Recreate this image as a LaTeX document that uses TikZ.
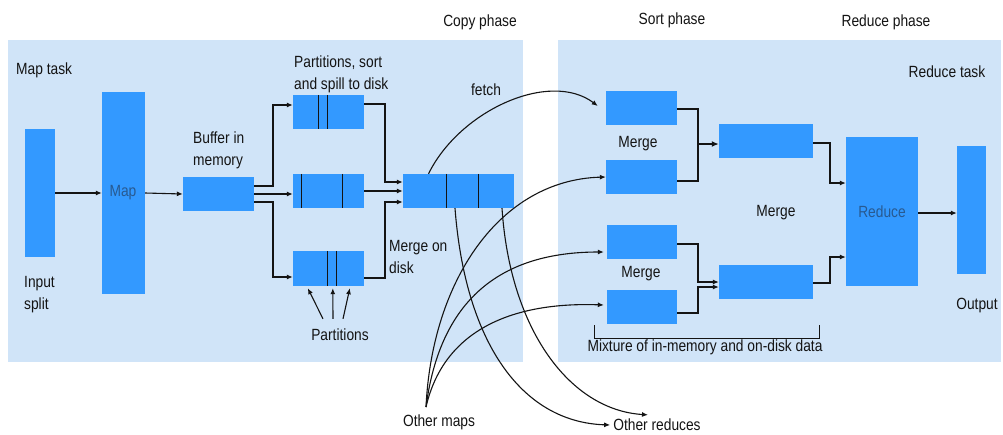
\documentclass[tikz,border=0pt]{standalone}
\usepackage{fontspec}
\setmainfont{Liberation Sans}[FakeStretch=0.85]
\usetikzlibrary{arrows.meta}
\definecolor{panel}{RGB}{208,228,248}
\definecolor{boxblue}{RGB}{51,153,255}
\definecolor{lbl}{RGB}{40,90,145}
\definecolor{ink}{RGB}{20,20,20}
\begin{document}
\begin{tikzpicture}[x=1pt,y=-1pt,
  box/.style={fill=boxblue, draw=none, inner sep=0pt},
  txt/.style={inner sep=0pt, align=left, text=ink, font=\fontsize{16.2}{22}\selectfont},
  conn/.style={draw=ink, line width=1.1pt},
  arr/.style={conn, -{Latex[length=6pt,width=5pt]}},
  div/.style={draw=ink, line width=1.1pt}]
\useasboundingbox (0,0) rectangle (1003,434);
\fill[white] (0,0) rectangle (1003,434);
\fill[panel] (8,40) rectangle (523,362);
\fill[panel] (558,40) rectangle (1001,362);

% boxes
\node[box, minimum width=30pt, minimum height=128pt] (inp) at (40,193) {};
\node[box, minimum width=43pt, minimum height=202pt] (map) at (123.5,193) {};
\node[box, minimum width=71pt, minimum height=34pt] (buf) at (218.5,194) {};
\node[box, minimum width=71pt, minimum height=34pt] (p1) at (328.5,112) {};
\node[box, minimum width=71pt, minimum height=34pt] (p2) at (328.5,191) {};
\node[box, minimum width=71pt, minimum height=35pt] (p3) at (328.5,268.5) {};
\node[box, minimum width=111pt, minimum height=34pt] (md) at (458.5,191) {};
\node[box, minimum width=71pt, minimum height=34pt] (a1) at (641.5,108) {};
\node[box, minimum width=71pt, minimum height=34pt] (a2) at (641.5,177) {};
\node[box, minimum width=70pt, minimum height=34pt] (b1) at (642,242) {};
\node[box, minimum width=70pt, minimum height=34pt] (b2) at (642,307) {};
\node[box, minimum width=94pt, minimum height=34pt] (c1) at (766,141) {};
\node[box, minimum width=94pt, minimum height=34pt] (c2) at (766,282) {};
\node[box, minimum width=72pt, minimum height=149pt] (red) at (882,211.5) {};
\node[box, minimum width=29pt, minimum height=128pt] (out) at (971.5,210) {};

% dividers
\foreach \n/\d in {p1/26,p1/35,p2/9,p2/50,p3/35,p3/44,md/44,md/76}
  \draw[div] ([xshift=\d pt]\n.north west) -- ([xshift=\d pt]\n.south west);

% texts
\node[txt, anchor=west] (tmaptask) at (16,70) {Map task};
\node[txt, anchor=west] (tinput) at (24,295) {Input\\split};
\node[txt, text=lbl] (tmap) at (123,193) {Map};
\node[txt, anchor=west] (tbuf) at (193,150) {Buffer in\\memory};
\node[txt, anchor=west] (tpss) at (294,74) {Partitions, sort\\and spill to disk};
\node[txt] (tfetch) at (486,90) {fetch};
\node[txt, anchor=west] (tmod) at (389,257) {Merge on\\disk};
\node[txt] (parts) at (340,335) {Partitions};
\node[txt] (tcopy) at (480,22) {Copy phase};
\node[txt] (tsort) at (672,20) {Sort phase};
\node[txt] (treduce) at (886,22) {Reduce phase};
\node[txt] (trtask) at (947,72) {Reduce task};
\node[txt] (tm1) at (638,144) {Merge};
\node[txt] (tm2) at (641,274) {Merge};
\node[txt] (tm3) at (776,213) {Merge};
\node[txt, text=lbl] (tred) at (882,212) {Reduce};
\node[txt] (tout) at (977,306) {Output};
\node[txt] (tmix) at (705,347) {Mixture of in-memory and on-disk data};
\node[txt] (om) at (439,422) {Other maps};
\node[txt] (ored) at (657,425) {Other reduces};

% map side connectors
\draw[arr] (inp.east) -- (map.west);
\draw[arr] (map.east) -- (buf.west);
\coordinate (jl) at (273,194);
\draw[arr] ([yshift=8pt]buf.east) -| ([yshift=7pt]jl |- p1.west) -- ([yshift=7pt]p1.west);
\draw[arr] (buf.east) -- (buf.east -| p2.west);
\draw[arr] ([yshift=-8pt]buf.east) -| ([yshift=-8.5pt]jl |- p3.west) -- ([yshift=-8.5pt]p3.west);
\coordinate (jr) at (385,191);
\draw[arr] ([yshift=8pt]p1.east) -| ([yshift=9pt]jr |- md.west) -- ([yshift=9pt]md.west);
\draw[arr] (p2.east) -- (md.west);
\draw[arr] ([yshift=-9.5pt]p3.east) -| ([yshift=-11pt]jr |- md.west) -- ([yshift=-11pt]md.west);

% partitions arrows
\draw[arr] ([xshift=-17pt,yshift=10pt]parts.north) -- ([xshift=15pt,yshift=-2pt]p3.south west);
\draw[arr] ([xshift=-7pt,yshift=10pt]parts.north) -- ([xshift=40pt,yshift=-2pt]p3.south west);
\draw[arr] ([xshift=3pt,yshift=10pt]parts.north) -- ([xshift=57pt,yshift=-2pt]p3.south west);

% fetch curve
\draw[arr] ([xshift=-30pt]md.north) .. controls (460,110) and (550,70) .. ([xshift=-8pt,yshift=2pt]a1.west);

% other maps curves
\coordinate (oms) at (426,407);
\draw[arr] (oms) .. controls (432,280) and (500,180) .. (a2.west);
\draw[arr] (oms) .. controls (440,300) and (500,252) .. ([xshift=-3pt,yshift=-10pt]b1.west);
\draw[arr] (oms) .. controls (445,325) and (520,302) .. ([xshift=-3pt,yshift=2pt]b2.west);

% other reduces curves
\draw[arr] ([xshift=-3.5pt]md.south) .. controls (465,340) and (520,422) .. ([xshift=-3pt]ored.west);
\draw[arr] ([xshift=43.5pt]md.south) .. controls (510,330) and (570,410) .. ([xshift=-9pt,yshift=4pt]ored.north);

% sort-phase merges
\coordinate (ja) at (698,144);
\draw[conn] ([yshift=-1pt]a1.east) -| (ja);
\draw[conn] ([yshift=-4pt]a2.east) -| (ja);
\draw[conn, line width=2pt, -{Latex[length=7pt,width=6pt]}] (ja) -- (ja -| c1.west);
\coordinate (jb) at (698,282);
\draw[arr] ([yshift=-2pt]b1.east) -| (jb) -- (jb -| c2.west);
\draw[arr] ([yshift=-6pt]b2.east) -| ([yshift=-5pt]jb) -- ([yshift=-5pt]jb -| c2.west);

% to reduce
\coordinate (jc) at (830,183);
\draw[arr] ([yshift=-2pt]c1.east) -| (jc) -- (jc -| red.west);
\coordinate (jd) at (830,257);
\draw[arr] ([yshift=-1pt]c2.east) -| (jd) -- (jd -| red.west);
\draw[arr] ([yshift=-1.5pt]red.east) -- ([yshift=-1.5pt]red.east -| out.west);

% mixture bracket
\draw[conn, line width=0.9pt] (594,325) -- (594,338) -- (819,338) -- (819,325);
\end{tikzpicture}
\end{document}
